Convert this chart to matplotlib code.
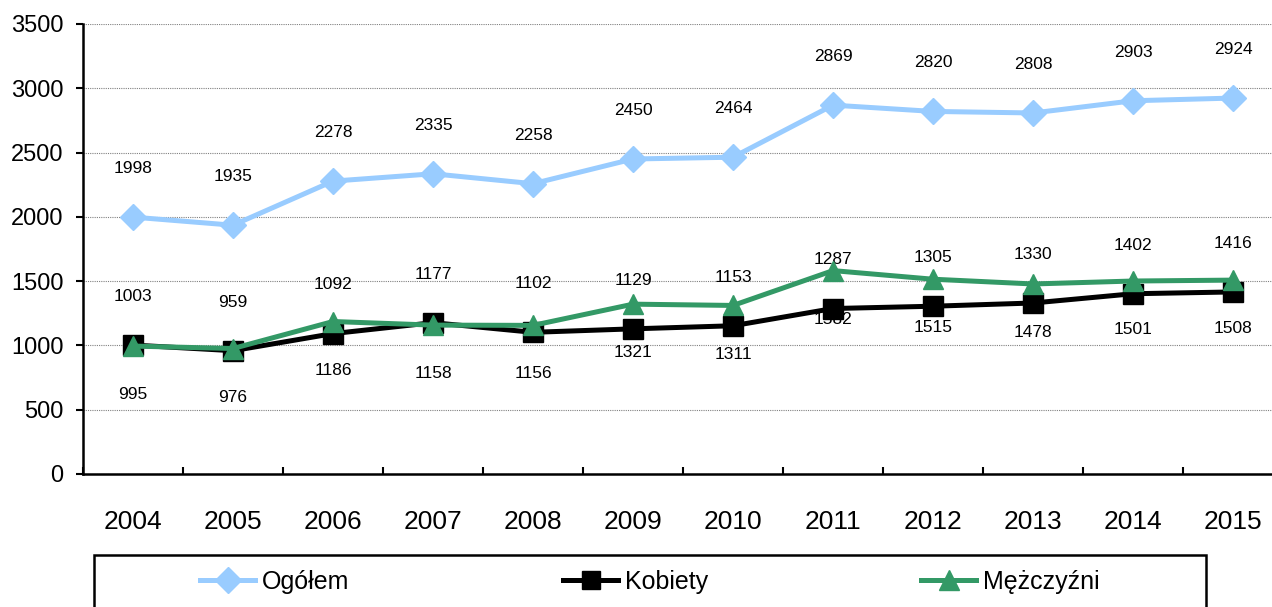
import numpy as np
import matplotlib.pyplot as plt
from matplotlib.lines import Line2D
from matplotlib.patches import Rectangle

plt.rcParams['font.family'] = ['Liberation Sans', 'DejaVu Sans']

years = ['2004', '2005', '2006', '2007', '2008', '2009', '2010', '2011', '2012', '2013', '2014', '2015']
ogolem = [1998, 1935, 2278, 2335, 2258, 2450, 2464, 2869, 2820, 2808, 2903, 2924]
kobiety = [1003, 959, 1092, 1177, 1102, 1129, 1153, 1287, 1305, 1330, 1402, 1416]
mezczyzni = [995, 976, 1186, 1158, 1156, 1321, 1311, 1582, 1515, 1478, 1501, 1508]

blue = '#99ccff'
green = '#339966'

fig = plt.figure(figsize=(12.72, 6.07), dpi=100)
# the plot area runs a little past the right edge of the picture
ax = fig.add_axes([83/1272, 133/607, 1200/1272, 450/607])
x = np.arange(len(years))

ax.plot(x, ogolem, color=blue, lw=3.6, marker='D', ms=13, label='Ogółem', zorder=3, clip_on=False)
ax.plot(x, kobiety, color='black', lw=3.6, marker='s', ms=14, label='Kobiety', zorder=4, clip_on=False)
ax.plot(x, mezczyzni, color=green, lw=3.6, marker='^', ms=15, label='Mężczyźni', zorder=5, clip_on=False)

# value labels: totals and women above, men below
for xi, v in zip(x, ogolem):
    ax.annotate(str(v), (xi, v), xytext=(0, 35), textcoords='offset points',
                ha='center', va='center', fontsize=12.5)
for xi, v in zip(x, kobiety):
    ax.annotate(str(v), (xi, v), xytext=(0, 35), textcoords='offset points',
                ha='center', va='center', fontsize=12.5)
for xi, v in zip(x, mezczyzni):
    ax.annotate(str(v), (xi, v), xytext=(0, -35), textcoords='offset points',
                ha='center', va='center', fontsize=12.5)

ax.set_xlim(-0.5, len(years) - 0.5)
ax.set_ylim(0, 3500)
ax.set_yticks(np.arange(0, 3501, 500))
ax.set_xticks(x)
ax.set_xticklabels(years)
ax.set_xticks(np.arange(-0.5, len(years), 1), minor=True)
ax.tick_params(axis='x', which='major', length=0, pad=26, labelsize=19)
ax.tick_params(axis='x', which='minor', length=5, width=1.5, direction='in')
ax.tick_params(axis='y', length=5, width=1.5, pad=9, labelsize=17)

ax.grid(axis='y', color='#808080', linestyle=(0, (1, 1)), linewidth=0.8)
ax.set_axisbelow(True)
for s in ['top', 'right']:
    ax.spines[s].set_visible(False)
for s in ['left', 'bottom']:
    ax.spines[s].set_linewidth(1.8)

# legend box (runs off the bottom edge)
fig.patches.append(Rectangle((94/1272, -0.05), 1112/1272, 0.05 + 52/607,
                             transform=fig.transFigure, fill=False,
                             edgecolor='black', linewidth=1.8))
handles = ax.get_lines()
for h, xpos, ms in zip(handles, [200/1272, 563/1272, 921/1272], [13, 13, 14]):
    lh = Line2D([], [], color=h.get_color(), lw=3.6, marker=h.get_marker(), ms=ms)
    fig.legend([lh], [h.get_label()], loc='center left', bbox_to_anchor=(xpos, 25/607),
               frameon=False, fontsize=18, handlelength=2.2, handletextpad=0.28,
               borderpad=0, borderaxespad=0)

fig.savefig('out.png', dpi=100)
